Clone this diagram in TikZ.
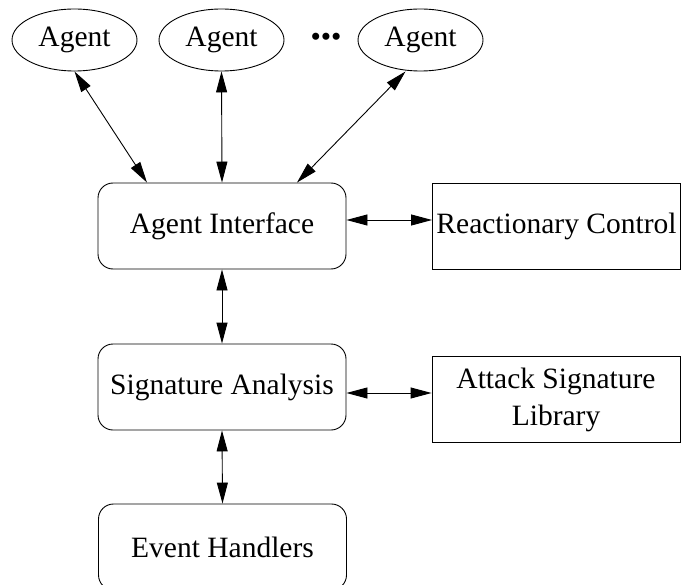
\documentclass[tikz,border=0pt]{standalone}
\usepackage{fontspec}
\setmainfont{Liberation Serif}
\usetikzlibrary{shapes.geometric,arrows.meta}
\newcommand{\boxwidth}{248pt}
\newcommand{\boxheight}{86pt}
\newcommand{\linew}{0.9pt}

\begin{document}
\begin{tikzpicture}[x=1pt,y=1pt,
  font=\fontsize{29.5}{37}\selectfont,
  agent/.style={draw,ellipse,line width=\linew,minimum width=125pt,minimum height=62pt,inner sep=0pt},
  module/.style={draw,rounded corners=15pt,line width=\linew,minimum width=\boxwidth,minimum height=\boxheight,inner sep=0pt},
  outside/.style={draw,line width=\linew,minimum width=\boxwidth,minimum height=\boxheight,inner sep=0pt,align=center},
  link/.style={{Triangle[length=21pt,width=11pt]}-{Triangle[length=21pt,width=11pt]},line width=\linew}]
\useasboundingbox (0,0) rectangle (684,-585);
% agents
\node[agent] (agent1) at (74.5, -40) {Agent};
\node[agent] (agent2) at (221.5, -40) {Agent};
\node[inner sep=0pt] (more) at (326, -40) {\textbullet\textbullet\textbullet};
\node[agent] (agent3) at (420.5, -40) {Agent};
% modules
\node[module] (ai) at (222, -226) {Agent Interface};
\node[outside] (rc) at (556.5, -226) {Reactionary Control};
\node[module] (sa) at (222, -387) {Signature Analysis};
\node[outside] (asl) at (556, -399.5) {Attack Signature\\Library};
\node[module] (eh) at (222.5, -547) {Event Handlers};
% links
\draw[link] (agent1.south) -- ([xshift=-75pt]ai.north);
\draw[link] (agent2.south) -- (ai.north);
\draw[link] ([xshift=-15pt]agent3.south) -- ([xshift=75pt]ai.north);
\draw[link] ([yshift=6pt]ai.east) -- ([yshift=6pt]ai.east -| rc.west);
\draw[link] (ai.south) -- (sa.north);
\draw[link] ([yshift=-6pt]sa.east) -- ([yshift=-6pt]sa.east -| asl.west);
\draw[link] (sa.south) -- (eh.north);
\end{tikzpicture}
\end{document}
